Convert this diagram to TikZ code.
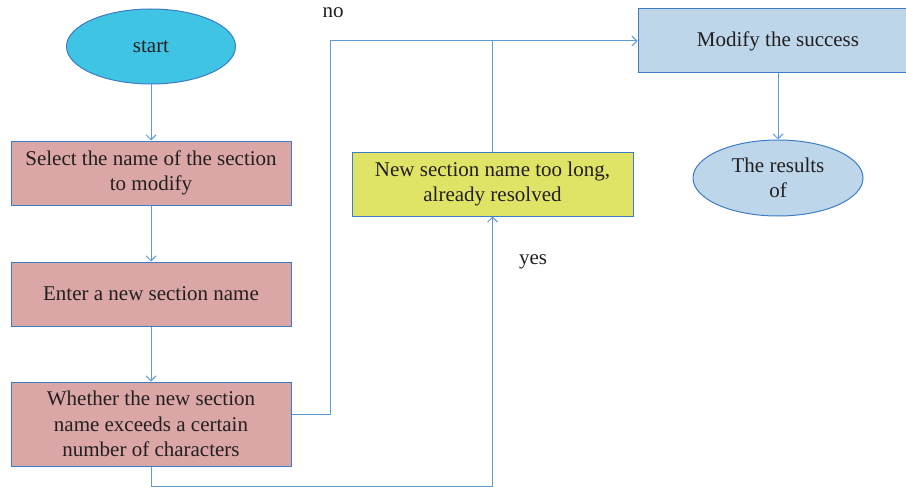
\documentclass[tikz,border=0pt]{standalone}
\usepackage{fontspec}
\setmainfont{Liberation Serif}
\usetikzlibrary{arrows.meta,shapes.geometric}
\definecolor{edgeblue}{HTML}{3C7DC4}
\definecolor{linkblue}{HTML}{5B9BD5}
\definecolor{startfill}{HTML}{40C4E4}
\definecolor{pinkfill}{HTML}{DBA7A6}
\definecolor{yellowfill}{HTML}{DFE366}
\definecolor{paleblue}{HTML}{BED6EA}
\definecolor{inkc}{HTML}{231F20}
\begin{document}
\begin{tikzpicture}[x=1pt,y=-1pt,
  every node/.style={text=inkc,font=\fontsize{21}{25.5}\selectfont},
  procbox/.style={draw=edgeblue,line width=1pt,minimum width=280pt,minimum height=64pt,align=center,inner sep=2pt},
  termell/.style={ellipse,draw=edgeblue,line width=1pt,minimum width=169pt,minimum height=75pt,align=center,inner sep=0pt},
  link/.style={draw=linkblue,line width=1pt},
  arr/.style={link,-{Straight Barb[length=5pt,width=10pt]}}]
\useasboundingbox (0,0) rectangle (906,487);
\node[termell,fill=startfill] (start) at (151,46.5) {start};
\node[procbox,fill=pinkfill] (sel) at (151,173) {Select the name of the section\\to modify};
\node[procbox,fill=pinkfill] (ent) at (151,294) {Enter a new section name};
\node[procbox,fill=pinkfill,minimum height=84pt] (chk) at (151,424) {Whether the new section\\name exceeds a certain\\number of characters};
\node[procbox,fill=yellowfill,minimum width=281pt] (long) at (492.5,184) {New section name too long,\\already resolved};
\node[procbox,fill=paleblue] (succ) at (778,41) {Modify the success};
\node[termell,fill=paleblue,minimum width=170pt,minimum height=76pt] (res) at (778,178) {The results\\of};
\node (no) at (333,13) {no};
\node (yes) at (533,262) {yes};
\coordinate (ytop) at (330,41);
\coordinate (bl) at (151,486);
\coordinate (br) at (492.5,486);
\draw[arr] (start) -- (sel);
\draw[arr] (sel) -- (ent);
\draw[arr] (ent) -- (chk);
\draw[arr] ([yshift=10pt]chk.east) -| (ytop) -- (succ.west);
\draw[link] (long.north) -- (long.north |- succ.west);
\draw[arr] (chk.south) -- (bl) -- (br) -- (long.south);
\draw[arr] (succ) -- (res);
\end{tikzpicture}
\end{document}
